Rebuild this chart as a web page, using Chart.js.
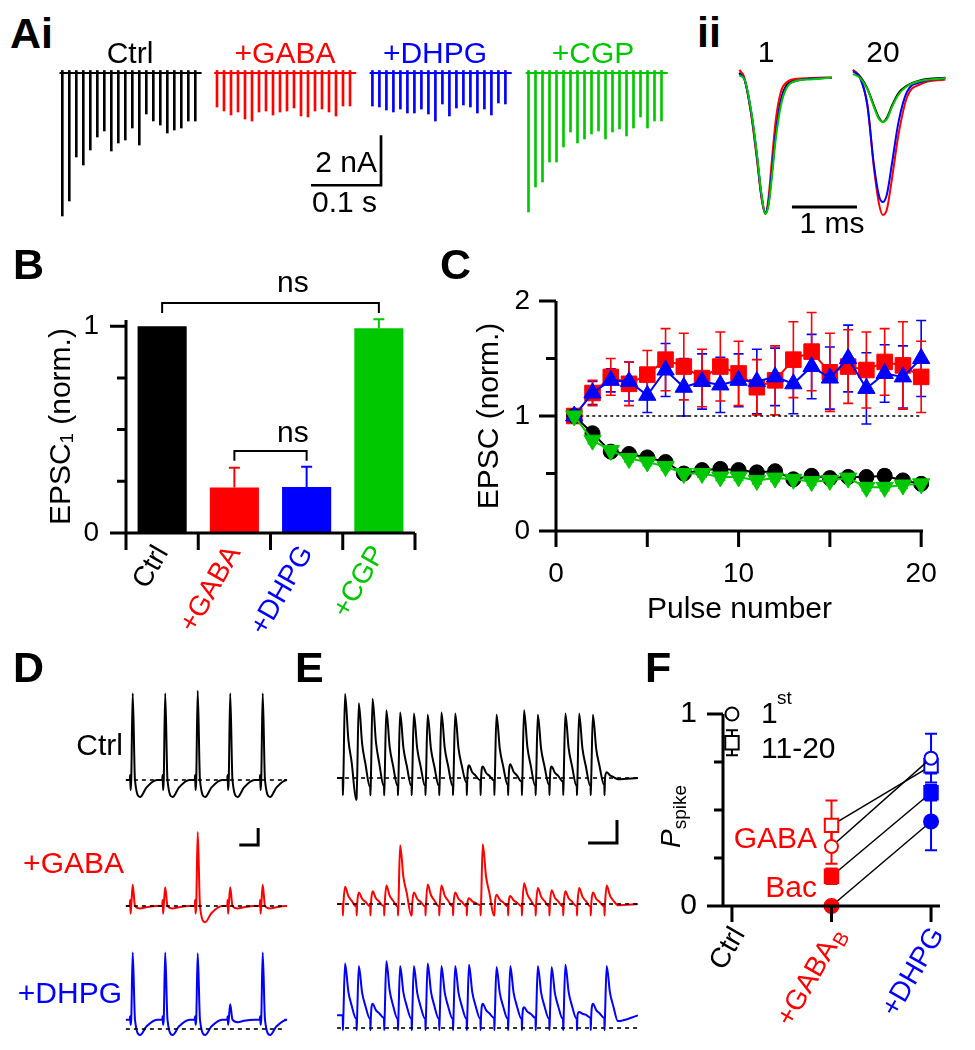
<!DOCTYPE html>
<html>
<head>
<meta charset="utf-8">
<title>EPSC trains and spike fidelity</title>
<script src="https://cdn.jsdelivr.net/npm/chart.js@4.4.1/dist/chart.umd.min.js"></script>
<style>
  html, body { margin: 0; padding: 0; background: #fff; }
  body { position: relative; width: 975px; height: 1050px; overflow: hidden;
         font-family: "Liberation Sans", Arial, sans-serif; color: #000; }
  canvas { position: absolute; }
  .txt { position: absolute; line-height: 1; white-space: nowrap; }
</style>
</head>
<body>
<script>
// ---------- colours
const BLACK = '#000000', RED = '#ff0000', BLUE = '#0000ff', GREEN = '#00c800';

// ---------- Ai: EPSC amplitudes (nA) during the 100 Hz trains
const pulseMs = [0, 10, 20, 30, 40, 50, 60, 70, 80, 90, 100, 110, 120, 130, 140, 150, 160, 170, 180, 190];
const aiCtrl = [5.72, 5.12, 3.36, 3.68, 3.08, 2.56, 2.32, 3.12, 2.8, 2.68, 2.2, 2.88, 1.64, 1.92, 2.08, 2.4, 2.28, 2.2, 1.92, 1.92];
const aiGaba = [1.36, 1.52, 1.68, 1.56, 1.84, 1.92, 1.56, 1.52, 1.68, 1.56, 1.52, 1.4, 1.72, 1.76, 1.52, 1.44, 1.56, 1.72, 1.32, 1.32];
const aiDhpg = [1.32, 1.36, 1.48, 1.56, 1.44, 1.6, 1.6, 1.44, 1.64, 1.92, 1.24, 1.72, 1.4, 1.28, 1.36, 1.6, 1.44, 1.68, 1.2, 1.24];
const aiCgp  = [5.56, 4.56, 4.36, 3.56, 3.56, 2.96, 2.36, 2.8, 2.64, 2.44, 2.32, 2.64, 2.36, 2.24, 2.52, 2.2, 1.76, 2.2, 1.92, 1.92];

// ---------- Aii: mean EPSC waveforms, normalised to EPSC1 (time in ms)
const w1Ms   = [0, 0.08, 0.19, 0.27, 0.34, 0.40, 0.45, 0.50, 0.56, 0.64, 0.73, 0.88, 1.09, 1.42];
const w1Ctrl = [0.03, -0.02, -0.29, -0.58, -0.87, -1.0, -0.92, -0.70, -0.41, -0.17, -0.06, -0.024, -0.015, -0.007];
const w1Gaba = [0.05, -0.01, -0.30, -0.60, -0.88, -1.0, -0.88, -0.62, -0.32, -0.11, -0.04, -0.015, -0.01, -0.005];
const w1Dhpg = [0.02, -0.02, -0.28, -0.57, -0.86, -0.99, -0.92, -0.70, -0.42, -0.18, -0.07, -0.03, -0.015, -0.008];
const w1Cgp  = [0.01, -0.02, -0.27, -0.56, -0.85, -1.0, -0.94, -0.74, -0.46, -0.21, -0.08, -0.03, -0.02, -0.008];
const w20Ms   = [0, 0.11, 0.22, 0.32, 0.40, 0.46, 0.52, 0.60, 0.70, 0.83, 1.04, 1.42];
const w20Ctrl = [0.05, 0.0, -0.085, -0.21, -0.30, -0.33, -0.30, -0.21, -0.12, -0.065, -0.025, -0.007];
const w20Gaba = [0.05, -0.01, -0.20, -0.66, -0.93, -1.01, -0.97, -0.74, -0.42, -0.15, -0.055, -0.02];
const w20Dhpg = [0.04, -0.01, -0.21, -0.64, -0.87, -0.915, -0.86, -0.63, -0.33, -0.11, -0.04, -0.01];
const w20Cgp  = [0.02, -0.01, -0.09, -0.22, -0.31, -0.33, -0.31, -0.22, -0.13, -0.07, -0.03, -0.012];

// ---------- B: EPSC1 normalised
const bCats = ['Ctrl', '+GABA', '+DHPG', '+CGP'];
const bColors = [BLACK, RED, BLUE, GREEN];
const bMean = [1.0, 0.22, 0.223, 0.99];
const bSem = [0, 0.095, 0.097, 0.044];
const bBrackets = [
  { from: 0, to: 3, at: 1.112, drop: 0.048, text: 'ns', textAt: 1.81, textY: 1.165 },
  { from: 1, to: 2, at: 0.397, drop: 0.048, text: 'ns', textAt: 1.81, textY: 0.44 }
];

// ---------- C: EPSC (norm.) vs pulse number
const pulseNo = [1, 2, 3, 4, 5, 6, 7, 8, 9, 10, 11, 12, 13, 14, 15, 16, 17, 18, 19, 20];
const cCtrl = [1.0, 0.85, 0.69, 0.67, 0.64, 0.60, 0.50, 0.53, 0.54, 0.53, 0.51, 0.52, 0.45, 0.48, 0.46, 0.47, 0.47, 0.48, 0.44, 0.41];
const cCtrlSem = [0, 0.02, 0.03, 0.03, 0.03, 0.04, 0.04, 0.04, 0.04, 0.04, 0.04, 0.04, 0.04, 0.04, 0.03, 0.04, 0.04, 0.05, 0.03, 0.03];
const cGaba = [1.0, 1.20, 1.34, 1.28, 1.36, 1.49, 1.43, 1.33, 1.43, 1.37, 1.25, 1.31, 1.49, 1.56, 1.38, 1.43, 1.40, 1.47, 1.44, 1.34];
const cGabaSem = [0, 0.11, 0.16, 0.19, 0.21, 0.27, 0.29, 0.25, 0.30, 0.28, 0.24, 0.30, 0.33, 0.34, 0.34, 0.32, 0.33, 0.29, 0.38, 0.31];
const cDhpg = [1.0, 1.20, 1.31, 1.30, 1.18, 1.40, 1.25, 1.30, 1.27, 1.31, 1.30, 1.34, 1.28, 1.43, 1.33, 1.50, 1.24, 1.37, 1.34, 1.50];
const cDhpgSem = [0.02, 0.10, 0.10, 0.17, 0.15, 0.23, 0.25, 0.24, 0.24, 0.23, 0.28, 0.25, 0.26, 0.28, 0.27, 0.29, 0.31, 0.25, 0.27, 0.33];
const cCgp = [1.0, 0.79, 0.70, 0.63, 0.60, 0.56, 0.50, 0.50, 0.47, 0.47, 0.44, 0.46, 0.45, 0.43, 0.44, 0.46, 0.38, 0.38, 0.40, 0.41];
const cCgpSem = [0, 0.03, 0.03, 0.03, 0.03, 0.03, 0.03, 0.03, 0.03, 0.03, 0.03, 0.03, 0.03, 0.03, 0.03, 0.03, 0.03, 0.03, 0.03, 0.03];

// ---------- D: first 5 responses (mV from rest); peaks, after-hyperpolarisations
const dStimMs = [0, 10, 20, 30, 40];
const dCtrlPeak = [102, 102, 105, 102, 102];
const dCtrlAhp  = [-20, -20, -20, -20, -20];
const dGabaPeak = [25, 22, 87, 22, 25];
const dGabaAhp  = [-3, -3, -19, -3, -3];
const dDhpgRest = 11;
const dDhpgPeak = [79, 79, 78, 18, 79];
const dDhpgAhp  = [-18, -18, -18, -3, -18];

// ---------- E: whole 20-pulse train (mV); peaks and level before next stimulus
const eCtrlPeak = [73, 65, 69, 59, 57, 56, 55, 57, 56, 11, 10, 55, 12, 59, 55, 10, 56, 56, 55, 5];
const eCtrlEnd  = [-19, -8, -7, -7, -7, -7, -7, -7, -4, -2, -2, -6, -3, -7, -6, -3, -7, -7, -6, -1];
const eGabaPeak = [15, 10, 11, 16, 51, 10, 17, 16, 10, 5, 52, 8, 7, 18, 14, 12, 11, 14, 10, 16];
const eGabaEnd  = [-2, -2, -2, -2, -10, -2, -2, -2, -2, -1, -10, -2, -2, -2, -2, -2, -2, -2, -2, -1];
const eDhpgRest = 11;
const eDhpgPeak = [45, 43, 10, 47, 43, 43, 45, 43, 43, 44, 10, 42, 43, 7, 43, 42, 44, 3, 10, 43];
const eDhpgEnd  = [-3, -3, -2, -3, -3, -3, -3, -3, -3, -3, -2, -3, -3, -2, -3, -3, -3, -2, -2, -5];

// ---------- F: spike probability
const fCats = ['Ctrl', '+GABA', '+DHPG'];
const fCatSub = ['', 'B', ''];
const fCatColors = [BLACK, RED, BLUE];
const fCtrlFirst = 1.0;
const fCtrlLate = 0.85, fCtrlLateErr = 0.065;
const fGabaFirst = [0.31, 0.77], fGabaFirstErr = [0.09, 0.127];
const fGabaLate  = [0.42, 0.73], fGabaLateErr  = [0.13, 0.04];
const fBacLate   = [0.155, 0.59], fBacLateErr  = [0.04, 0.04];
const fBacFirst  = [0, 0.44],    fBacFirstErr  = [0, 0.15];

// ---------- chart defaults
Chart.defaults.font.family = '"Liberation Sans", Arial, sans-serif';
Chart.defaults.color = '#000';
Chart.defaults.animation = false;
Chart.defaults.responsive = false;
Chart.defaults.maintainAspectRatio = false;
Chart.defaults.events = [];
Chart.defaults.plugins.legend.display = false;
Chart.defaults.plugins.tooltip.enabled = false;

function makeCanvas(left, top, w, h) {
  const c = document.createElement('canvas');
  c.width = w; c.height = h;
  c.style.left = left + 'px'; c.style.top = top + 'px';
  document.body.appendChild(c);
  return c;
}
// data range that puts value 0 at pixel "zero", k pixels per unit
function spanX(left, w, zero, k) { return { min: (left - zero) / k, max: (left + w - zero) / k }; }
function spanY(top, h, zero, k) { return { min: -(top + h - zero) / k, max: (zero - top) / k }; }

function text(str, x, base, o = {}) {
  const d = document.createElement('div');
  const size = o.size || 30;
  d.className = 'txt';
  d.innerHTML = str;
  d.style.fontSize = size + 'px';
  d.style.top = (base - 0.8465 * size) + 'px';
  d.style.left = x + 'px';
  if (o.color) d.style.color = o.color;
  if (o.bold) d.style.fontWeight = 'bold';
  const shift = o.align === 'center' ? '-50%' : o.align === 'right' ? '-100%' : '0';
  d.style.transform = 'translateX(' + shift + ')';
  document.body.appendChild(d);
  return d;
}

// ---------- plugins
const errorBarPlugin = {
  id: 'errorBars',
  beforeDatasetsDraw(chart) {
    const { ctx, scales: { y } } = chart;
    chart.data.datasets.forEach((ds, di) => {
      if (!ds.errors) return;
      const meta = chart.getDatasetMeta(di);
      ctx.save();
      ctx.lineWidth = ds.errorWidth || 1.6;
      meta.data.forEach((el, i) => {
        const e = ds.errors[i];
        if (!e) return;
        const raw = ds.data[i];
        const v = typeof raw === 'object' ? raw.y : raw;
        const top = y.getPixelForValue(v + e);
        const bot = y.getPixelForValue(ds.errorUpOnly ? v : v - e);
        const cw = (ds.capWidth || 10) / 2;
        ctx.strokeStyle = Array.isArray(ds.errorColor) ? ds.errorColor[i] : (ds.errorColor || ds.borderColor);
        ctx.beginPath();
        ctx.moveTo(el.x, bot); ctx.lineTo(el.x, top);
        ctx.moveTo(el.x - cw, top); ctx.lineTo(el.x + cw, top);
        if (!ds.errorUpOnly) { ctx.moveTo(el.x - cw, bot); ctx.lineTo(el.x + cw, bot); }
        ctx.stroke();
      });
      ctx.restore();
    });
  }
};

function axesPlugin(cfg) {
  return {
    id: 'axes',
    afterDraw(chart) {
      const { ctx, chartArea: a, scales: { x, y } } = chart;
      ctx.save();
      ctx.strokeStyle = '#000';
      ctx.lineWidth = 3;
      ctx.beginPath();
      ctx.moveTo(a.left, a.bottom + 1.5); ctx.lineTo(a.left, a.top);
      ctx.moveTo(a.left, a.bottom); ctx.lineTo(a.right, a.bottom);
      cfg.yTicks.forEach(([v, len]) => {
        const p = y.getPixelForValue(v);
        ctx.moveTo(a.left, p); ctx.lineTo(a.left - len, p);
      });
      cfg.xTicks.forEach(([v, len]) => {
        const p = x.getPixelForValue(v);
        ctx.moveTo(p, a.bottom); ctx.lineTo(p, a.bottom + len);
      });
      ctx.stroke();
      ctx.restore();
    }
  };
}

const bracketPlugin = {
  id: 'brackets',
  afterDraw(chart) {
    const { ctx, scales: { x, y } } = chart;
    ctx.save();
    ctx.strokeStyle = '#000';
    ctx.fillStyle = '#000';
    ctx.lineWidth = 2;
    ctx.font = '30px "Liberation Sans", Arial, sans-serif';
    ctx.textAlign = 'center';
    ctx.textBaseline = 'alphabetic';
    bBrackets.forEach(b => {
      const x1 = x.getPixelForValue(b.from), x2 = x.getPixelForValue(b.to);
      const yt = y.getPixelForValue(b.at), yb = y.getPixelForValue(b.at - b.drop);
      ctx.beginPath();
      ctx.moveTo(x1, yb); ctx.lineTo(x1, yt); ctx.lineTo(x2, yt); ctx.lineTo(x2, yb);
      ctx.stroke();
      ctx.fillText(b.text, x.getPixelForValue(b.textAt), y.getPixelForValue(b.textY));
    });
    ctx.restore();
  }
};

const scaleBarPlugin = {
  id: 'scaleBar',
  afterDatasetsDraw(chart, args, o) {
    if (!o || o.x === undefined) return;
    const { ctx, scales: { x, y } } = chart;
    const x0 = x.getPixelForValue(o.x), y0 = y.getPixelForValue(o.y);
    ctx.save();
    ctx.strokeStyle = '#000';
    ctx.lineWidth = o.width || 3;
    ctx.lineJoin = 'miter';
    ctx.beginPath();
    ctx.moveTo(x.getPixelForValue(o.x + (o.dx || 0)), y0);
    ctx.lineTo(x0, y0);
    ctx.lineTo(x0, y.getPixelForValue(o.y + (o.dy || 0)));
    ctx.stroke();
    ctx.restore();
  }
};

function traceChart(canvas, xr, yr, datasets, bar) {
  return new Chart(canvas, {
    type: 'line',
    data: { datasets },
    options: {
      layout: { padding: 0 },
      scales: {
        x: { type: 'linear', display: false, offset: false, min: xr.min, max: xr.max },
        y: { type: 'linear', display: false, min: yr.min, max: yr.max }
      },
      elements: { point: { radius: 0 } },
      plugins: { scaleBar: bar || {} }
    },
    plugins: [scaleBarPlugin]
  });
}

// ================= Ai =================
const aiTrainMs = [0, 221, 443, 666];
const aiTrains = [aiCtrl, aiGaba, aiDhpg, aiCgp];
const aiColors = [BLACK, RED, BLUE, GREEN];
const aiSets = [];
aiTrains.forEach((amps, k) => {
  aiSets.push({
    type: 'bar',
    data: amps.map((a, i) => ({ x: aiTrainMs[k] + pulseMs[i], y: [0.1, -a] })),
    backgroundColor: aiColors[k], borderWidth: 0, barThickness: 2, grouped: false
  });
  aiSets.push({
    type: 'line',
    data: [{ x: aiTrainMs[k] - 4, y: 0 }, { x: aiTrainMs[k] + 199, y: 0 }],
    borderColor: aiColors[k], borderWidth: 2, pointRadius: 0
  });
});
traceChart(makeCanvas(40, 58, 640, 172), spanX(40, 640, 62.3, 0.7), spanY(58, 172, 73, 25), aiSets,
  { x: 455.3, y: -4.49, dx: -100, dy: 2, width: 2.7 });

// ================= Aii =================
const W20_START = 1.75;
const wave = (ts, vs, t0) => ts.map((t, i) => ({ x: t0 + t, y: vs[i] }));
const wLine = (data, color) => ({ data, borderColor: color, borderWidth: 2, pointRadius: 0, cubicInterpolationMode: 'monotone' });
traceChart(makeCanvas(700, 58, 275, 172), spanX(700, 275, 739.3, 65), spanY(58, 172, 76.7, 137), [
  wLine(wave(w1Ms, w1Cgp, 0), GREEN), wLine(wave(w1Ms, w1Dhpg, 0), BLUE),
  wLine(wave(w1Ms, w1Gaba, 0), RED), wLine(wave(w1Ms, w1Ctrl, 0), BLACK),
  wLine(wave(w20Ms, w20Cgp, W20_START), GREEN), wLine(wave(w20Ms, w20Dhpg, W20_START), BLUE),
  wLine(wave(w20Ms, w20Gaba, W20_START), RED), wLine(wave(w20Ms, w20Ctrl, W20_START), BLACK)
], { x: 1.81, y: -0.951, dx: -1, dy: 0, width: 3 });

// ================= B =================
new Chart(makeCanvas(0, 240, 440, 420), {
  type: 'bar',
  data: {
    labels: bCats,
    datasets: [{
      data: bMean,
      backgroundColor: bColors,
      borderWidth: 0,
      barPercentage: 0.68,
      categoryPercentage: 1,
      errors: bSem, errorUpOnly: true, errorColor: bColors, errorWidth: 2, capWidth: 11
    }]
  },
  options: {
    layout: { padding: { top: 80, right: 25, left: 0, bottom: 0 } },
    scales: {
      x: {
        grid: { display: false, drawTicks: false }, border: { display: false },
        ticks: { color: c => bColors[c.index], font: { size: 28 }, minRotation: 60, maxRotation: 60, padding: 7, autoSkip: false },
        afterFit: s => { s.height = 127; }
      },
      y: {
        min: 0, max: 1.03,
        grid: { display: false, drawTicks: false }, border: { display: false },
        afterBuildTicks: s => { s.ticks = [{ value: 0 }, { value: 1 }]; },
        ticks: { font: { size: 28 }, padding: 27 },
        title: { display: true, text: 'EPSC₁ (norm.)', font: { size: 30 }, padding: { top: 44, bottom: 0 } },
        afterFit: s => { s.width = 126; }
      }
    }
  },
  plugins: [errorBarPlugin, axesPlugin({
    yTicks: [[0, 16], [0.25, 9], [0.5, 9], [0.75, 9], [1, 16]],
    xTicks: [[-0.5, 17], [0.5, 17], [1.5, 17], [2.5, 17], [3.5, 17]]
  }), bracketPlugin]
});

// ================= C =================
const cPts = arr => arr.map((v, i) => ({ x: pulseNo[i], y: v }));
const cSeries = (data, errs, color, style, r, rot) => ({
  data, errors: errs, borderColor: color, backgroundColor: color, borderWidth: 2,
  pointStyle: style, pointRadius: r, pointRotation: rot || 0, pointBorderWidth: 1, clip: false, errorWidth: 1.6, capWidth: 10
});
new Chart(makeCanvas(440, 240, 535, 420), {
  type: 'line',
  data: {
    datasets: [
      cSeries(cPts(cCgp), cCgpSem, GREEN, 'triangle', 10, 180),
      cSeries(cPts(cDhpg), cDhpgSem, BLUE, 'triangle', 10),
      cSeries(cPts(cCtrl), cCtrlSem, BLACK, 'circle', 7.5),
      cSeries(cPts(cGaba), cGabaSem, RED, 'rect', 11),
      { data: [{ x: 1, y: 1 }, { x: 20, y: 1 }], borderColor: BLACK, borderWidth: 1.5, borderDash: [3, 3], pointRadius: 0 }
    ]
  },
  options: {
    layout: { padding: { top: 61, right: 52, left: 0, bottom: 0 } },
    scales: {
      x: {
        type: 'linear', min: 0, max: 20.1,
        grid: { display: false, drawTicks: false }, border: { display: false },
        afterBuildTicks: s => { s.ticks = [0, 10, 20].map(v => ({ value: v })); },
        ticks: { font: { size: 28 }, padding: 26 },
        title: { display: true, text: 'Pulse number', font: { size: 30 }, padding: { top: 0, bottom: 32 } },
        afterFit: s => { s.height = 129; }
      },
      y: {
        min: 0, max: 2,
        grid: { display: false, drawTicks: false }, border: { display: false },
        afterBuildTicks: s => { s.ticks = [0, 1, 2].map(v => ({ value: v })); },
        ticks: { font: { size: 28 }, padding: 26 },
        title: { display: true, text: 'EPSC (norm.)', font: { size: 30 }, padding: { top: 32, bottom: 0 } },
        afterFit: s => { s.width = 116; }
      }
    }
  },
  plugins: [errorBarPlugin, axesPlugin({
    yTicks: [[0, 17], [0.5, 10], [1, 17], [1.5, 10], [2, 17]],
    xTicks: [[0, 16], [5, 16], [10, 16], [15, 16], [20, 16]]
  })]
});

// ================= D =================
function dTrace(stim, peaks, ahp, rest, art, start, end) {
  const pts = [{ x: start, y: rest }];
  stim.forEach((t, i) => {
    pts.push({ x: t - 0.1, y: rest });
    pts.push({ x: t, y: rest + art[0] });
    pts.push({ x: t + 0.15, y: rest + art[1] });
    pts.push({ x: t + 0.35, y: rest });
    pts.push({ x: t + 0.8, y: rest + peaks[i] });
    pts.push({ x: t + 1.5, y: rest });
    pts.push({ x: t + 3.1, y: rest + ahp[i] });
    pts.push({ x: t + 5.0, y: rest + ahp[i] * 0.45 });
    pts.push({ x: t + 8.3, y: rest });
  });
  pts.push({ x: end, y: rest });
  return pts;
}
const trLine = (data, color) => ({ data, borderColor: color, borderWidth: 2, pointRadius: 0, cubicInterpolationMode: 'monotone' });
const dashLine = (from, to) => ({ data: [{ x: from, y: 0 }, { x: to, y: 0 }], borderColor: BLACK, borderWidth: 1.6, borderDash: [4, 4], pointRadius: 0 });
const D_START = -1.3, D_END = 47.4;
const dX = spanX(110, 185, 130.1, 3.25);
traceChart(makeCanvas(110, 680, 185, 130), dX, spanY(680, 130, 780, 0.85), [
  dashLine(D_START, D_END),
  trLine(dTrace(dStimMs, dCtrlPeak, dCtrlAhp, 0, [6, -12], D_START, D_END), BLACK)
]);
traceChart(makeCanvas(110, 812, 185, 118), dX, spanY(812, 118, 906, 0.85), [
  dashLine(D_START, D_END),
  trLine(dTrace(dStimMs, dGabaPeak, dGabaAhp, 0, [7, -9], D_START, D_END), RED)
], { x: 39.4, y: 71.8, dx: -5.8, dy: 20, width: 3 });
traceChart(makeCanvas(110, 935, 185, 113), dX, spanY(935, 113, 1029, 0.85), [
  dashLine(D_START, D_END),
  trLine(dTrace(dStimMs, dDhpgPeak, dDhpgAhp, dDhpgRest, [4, -6], D_START, D_END), BLUE)
]);

// ================= E =================
function eTrace(stim, peaks, ends, rest, art, start, end) {
  const pts = [{ x: start, y: rest }];
  let prev = rest;
  stim.forEach((t, i) => {
    pts.push({ x: t, y: prev });
    pts.push({ x: t + 0.15, y: rest - art });
    pts.push({ x: t + 0.5, y: rest });
    pts.push({ x: t + 1.7, y: rest + peaks[i] });
    pts.push({ x: t + 4.1, y: rest + peaks[i] * 0.46 });
    pts.push({ x: t + 6.5, y: rest + peaks[i] * 0.19 });
    pts.push({ x: t + 9.8, y: rest + ends[i] });
    prev = rest + ends[i];
  });
  pts.push({ x: end, y: rest });
  return pts;
}
const E_START = -4.1, E_END = 214.4;
const eX = spanX(330, 315, 342.7, 1.377);
traceChart(makeCanvas(330, 680, 315, 130), eX, spanY(680, 130, 778, 1.15), [
  dashLine(E_START, E_END),
  trLine(eTrace(pulseMs, eCtrlPeak, eCtrlEnd, 0, 15, E_START, E_END), BLACK)
]);
traceChart(makeCanvas(330, 815, 315, 105), eX, spanY(815, 105, 904, 1.15), [
  dashLine(E_START, E_END),
  trLine(eTrace(pulseMs, eGabaPeak, eGabaEnd, 0, 10, E_START, E_END), RED)
], { x: 199.2, y: 53, dx: -21, dy: 20, width: 3 });
traceChart(makeCanvas(330, 940, 315, 105), eX, spanY(940, 105, 1028, 1.15), [
  dashLine(E_START, E_END),
  trLine(eTrace(pulseMs, eDhpgPeak, eDhpgEnd, eDhpgRest, 13, E_START, E_END), BLUE)
]);

// ================= F =================
const fPair = vs => vs.map((v, i) => ({ x: i + 1, y: v }));
const fSeries = (vals, errs, style, r, filled) => ({
  data: fPair(vals), errors: errs, errorColor: [RED, BLUE], errorWidth: 2, capWidth: 12,
  borderColor: BLACK, borderWidth: 1.5,
  pointStyle: style, pointRadius: r, pointBorderWidth: 2,
  pointBorderColor: [RED, BLUE], pointBackgroundColor: filled ? [RED, BLUE] : ['#fff', '#fff'], clip: false
});
const fLabelPlugin = {
  id: 'fLabels',
  afterDraw(chart) {
    const { ctx, chartArea: a, scales: { x, y } } = chart;
    ctx.save();
    fCats.forEach((c, i) => {
      ctx.save();
      ctx.translate(x.getPixelForValue(i) + 7, a.bottom + 24);
      ctx.rotate(-60 * Math.PI / 180);
      ctx.textAlign = 'right';
      ctx.textBaseline = 'middle';
      ctx.fillStyle = fCatColors[i];
      let end = 0;
      if (fCatSub[i]) {
        ctx.font = '20px "Liberation Sans", Arial, sans-serif';
        ctx.fillText(fCatSub[i], 0, 8);
        end = -ctx.measureText(fCatSub[i]).width - 1;
      }
      ctx.font = '28px "Liberation Sans", Arial, sans-serif';
      ctx.fillText(c, end, 0);
      ctx.restore();
    });
    // significance stars beside the +DHPG points
    ctx.fillStyle = '#000';
    ctx.font = '30px "Liberation Sans", Arial, sans-serif';
    ctx.textAlign = 'center';
    ctx.textBaseline = 'alphabetic';
    [fGabaFirst[1], fGabaLate[1], fBacLate[1], fBacFirst[1]].forEach(v => {
      ctx.fillText('*', 960, y.getPixelForValue(v) + 15);
    });
    ctx.restore();
  }
};
new Chart(makeCanvas(640, 660, 335, 390), {
  type: 'line',
  data: {
    datasets: [
      { data: [{ x: 0, y: fCtrlFirst }], showLine: false, pointStyle: 'circle', pointRadius: 6.5, pointBorderWidth: 2,
        pointBorderColor: BLACK, pointBackgroundColor: '#fff', clip: false },
      { data: [{ x: 0, y: fCtrlLate }], errors: [fCtrlLateErr], errorColor: BLACK, errorWidth: 2, capWidth: 12, showLine: false,
        pointStyle: 'rect', pointRadius: 9.5, pointBorderWidth: 2, pointBorderColor: BLACK, pointBackgroundColor: '#fff', clip: false },
      fSeries(fGabaFirst, fGabaFirstErr, 'circle', 6.5, false),
      fSeries(fGabaLate, fGabaLateErr, 'rect', 9.5, false),
      fSeries(fBacLate, fBacLateErr, 'rect', 9.5, true),
      fSeries(fBacFirst, fBacFirstErr, 'circle', 7, true)
    ]
  },
  options: {
    layout: { padding: { top: 54, right: 35, left: 0, bottom: 0 } },
    scales: {
      x: {
        type: 'linear', min: -0.09, max: 2.09,
        grid: { display: false, drawTicks: false }, border: { display: false },
        ticks: { display: false },
        afterFit: s => { s.height = 144; }
      },
      y: {
        min: 0, max: 1,
        grid: { display: false, drawTicks: false }, border: { display: false },
        afterBuildTicks: s => { s.ticks = [0, 1].map(v => ({ value: v })); },
        ticks: { font: { size: 30 }, padding: 26 },
        afterFit: s => { s.width = 83; }
      }
    }
  },
  plugins: [errorBarPlugin, axesPlugin({
    yTicks: [[0, 16], [0.25, 9], [0.5, 9], [0.75, 9], [1, 16]],
    xTicks: [[0, 16], [1, 16], [2, 16]]
  }), fLabelPlugin]
});

// ================= text =================
// panel letters
text('Ai', 10, 48, { size: 43, bold: true });
text('ii', 697, 47, { size: 43, bold: true });
text('B', 13, 279, { size: 43, bold: true });
text('C', 440, 279, { size: 43, bold: true });
text('D', 13, 682, { size: 43, bold: true });
text('E', 295, 682, { size: 43, bold: true });
text('F', 645, 682, { size: 43, bold: true });
// Ai
text('Ctrl', 130, 63, { align: 'center' });
text('+GABA', 285, 63, { align: 'center', color: RED });
text('+DHPG', 435, 63, { align: 'center', color: BLUE });
text('+CGP', 593, 63, { align: 'center', color: GREEN });
text('2 nA', 377, 172, { align: 'right' });
text('0.1 s', 312, 212);
// Aii
text('1', 766, 62, { align: 'center' });
text('20', 883, 62, { align: 'center' });
text('1 ms', 832, 233, { align: 'center' });
// D
text('Ctrl', 123, 755, { align: 'right' });
text('+GABA', 124, 873, { align: 'right', color: RED });
text('+DHPG', 122, 1003, { align: 'right', color: BLUE });
// F
text('1', 761, 723);
text('st', 777, 704, { size: 19 });
text('11-20', 761, 758);
text('GABA', 817, 848, { align: 'right', color: RED });
text('Bac', 817, 897, { align: 'right', color: RED });
const ptitle = text('<i>P</i><span style="font-size:19px;position:relative;top:6px">spike</span>', 0, 0, { size: 28 });
ptitle.style.left = '657px';
ptitle.style.top = '848px';
ptitle.style.transformOrigin = 'left top';
ptitle.style.transform = 'rotate(-90deg)';
</script>
</body>
</html>
